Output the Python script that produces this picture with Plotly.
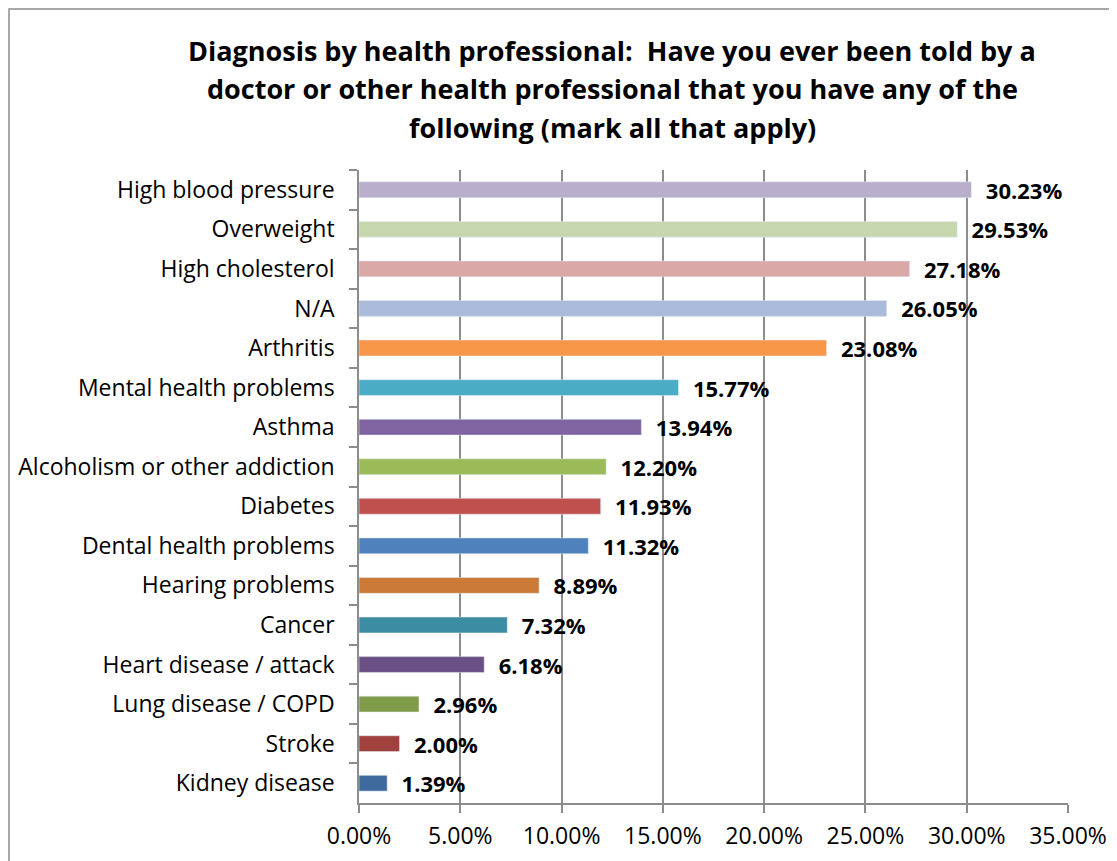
import plotly.graph_objects as go

categories = ["High blood pressure", "Overweight", "High cholesterol", "N/A", "Arthritis",
              "Mental health problems", "Asthma", "Alcoholism or other addiction", "Diabetes",
              "Dental health problems", "Hearing problems", "Cancer", "Heart disease / attack",
              "Lung disease / COPD", "Stroke", "Kidney disease"]
values = [30.23, 29.53, 27.18, 26.05, 23.08, 15.77, 13.94, 12.20, 11.93, 11.32,
          8.89, 7.32, 6.18, 2.96, 2.00, 1.39]
colors = ["#B9AECA", "#C6D6AD", "#DBA8A8", "#AABADA", "#F79646", "#4BACC6", "#8064A2",
          "#9BBB59", "#C0504D", "#4F81BD", "#CB7A37", "#3C8DA3", "#6A5084", "#7F9A48",
          "#A0413E", "#3F6A9E"]
x_ticks = [0, 5, 10, 15, 20, 25, 30, 35]
title_lines = ["Diagnosis by health professional:  Have you ever been told by a",
               "doctor or other health professional that you have any of the",
               "following (mark all that apply)"]

FONT = "Open Sans"
GRAY = "#8C8C8C"
W, H = 1109, 853
L, R, T, B = 351, 49, 162, 58
pw, ph = W - L - R, H - T - B

fig = go.Figure()
fig.add_trace(go.Bar(
    y=categories, x=values, orientation="h",
    marker_color=colors, width=0.4,
    text=["\u00a0\u00a0%.2f%%" % v for v in values],
    textposition="outside", cliponaxis=False, constraintext="none",
    textfont=dict(family=FONT, size=22, color="black", weight="bold"),
))

fig.update_layout(
    width=W, height=H,
    margin=dict(l=L, r=R, t=T, b=B),
    paper_bgcolor="white", plot_bgcolor="white",
    showlegend=False,
    font=dict(family=FONT, size=23, color="black"),
)
# title, one annotation per line to match the wide line spacing
for i, line in enumerate(title_lines):
    fig.add_annotation(text="<b>%s</b>" % line, xref="paper", yref="paper",
                       x=(604 - L) / pw, y=(H - B - (42 + 39 * i)) / ph,
                       xanchor="center", yanchor="middle", showarrow=False,
                       font=dict(family=FONT, size=27, color="black"))

fig.update_xaxes(
    range=[0, 35], tickvals=x_ticks, ticktext=["%.2f%%" % t for t in x_ticks],
    showgrid=True, gridcolor=GRAY, gridwidth=1.5,
    showline=True, linecolor=GRAY, linewidth=1.5,
    ticks="outside", ticklen=8, tickcolor=GRAY, tickwidth=1.5,
    ticklabelstandoff=4, zeroline=False, fixedrange=True, automargin=False,
)
fig.update_yaxes(
    autorange="reversed", showline=True, linecolor=GRAY, linewidth=1.5,
    ticks="outside", ticklen=8, tickcolor=GRAY, tickwidth=1.5, tickson="boundaries",
    ticklabelstandoff=18, showgrid=False, automargin=False,
)
# outer chart frame
fig.add_shape(type="rect", xref="paper", yref="paper",
              x0=(1 - L) / pw, x1=(W + 20 - L) / pw,
              y0=-0.3, y1=(H - B - 1) / ph,
              line=dict(color=GRAY, width=1.5), layer="below")

fig.write_html("out.html")
